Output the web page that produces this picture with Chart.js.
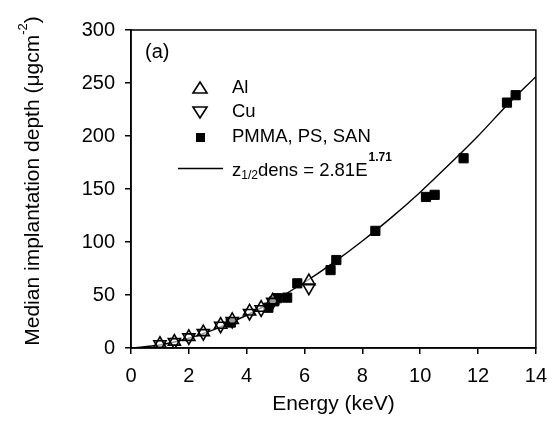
<!DOCTYPE html>
<html>
<head>
<meta charset="utf-8">
<script src="https://cdn.jsdelivr.net/npm/chart.js@4/dist/chart.umd.min.js"></script>
<style>
  html, body { margin: 0; padding: 0; background: #fff; }
  #wrap { width: 557px; height: 424px; position: relative; }
</style>
</head>
<body>
<div id="wrap"><canvas id="chart-area" width="557" height="424"></canvas></div>
<script>
// energies (keV) shared by Al and Cu
var metalE = [1.0, 1.5, 2.0, 2.5, 3.1, 3.5, 4.1, 4.5, 4.9, 6.15];
var alDepth = [4, 6, 10.5, 15, 22, 26.5, 34.5, 38, 45, 63];
var cuDepth = [3.5, 5.5, 10, 14, 21, 25.5, 33, 36.5, 43.5, 57];

// PMMA, PS, SAN
var polyE = [3.45, 4.75, 4.95, 5.05, 5.4, 5.75, 6.9, 7.1, 8.45, 10.2, 10.5, 11.5, 13.0, 13.3];
var polyDepth = [24, 38, 44, 47, 47.5, 61, 73.5, 83, 110.5, 142.5, 144.5, 179, 231.5, 238.5];

// fitted curve
var fitE = [0, 1, 2, 3, 4, 5, 6, 7, 8, 9, 10, 11, 12, 13, 14];
var fitDepth = [0, 2.8, 9.2, 18.8, 30.9, 45.4, 62, 80.6, 101, 123, 147, 173, 200, 229, 256];

var xTicks = [0, 2, 4, 6, 8, 10, 12, 14];
var yTicks = [0, 50, 100, 150, 200, 250, 300];

var FONT = '"Liberation Sans", Arial, sans-serif';

function pts(xs, ys) {
    return xs.map(function(x, i) { return {x: x, y: ys[i]}; });
}

var extras = {
    id: 'extras',
    afterDraw: function(chart) {
        var ctx = chart.ctx;
        var a = chart.chartArea;
        ctx.save();
        // frame
        ctx.strokeStyle = '#000';
        ctx.lineWidth = 1.5;
        ctx.strokeRect(a.left, a.top, a.right - a.left, a.bottom - a.top);

        ctx.fillStyle = '#000';
        ctx.textBaseline = 'middle';
        ctx.textAlign = 'left';
        ctx.font = '20px ' + FONT;
        ctx.fillText('(a)', 145, 52);

        // legend
        ctx.font = '18.5px ' + FONT;
        ctx.lineWidth = 1.6;
        // up triangle
        ctx.beginPath();
        ctx.moveTo(200, 82); ctx.lineTo(207, 93); ctx.lineTo(193, 93); ctx.closePath();
        ctx.stroke();
        ctx.fillText('Al', 232, 88);
        // down triangle
        ctx.beginPath();
        ctx.moveTo(193, 107); ctx.lineTo(207, 107); ctx.lineTo(200, 118); ctx.closePath();
        ctx.stroke();
        ctx.fillText('Cu', 232, 112);
        // square
        ctx.fillRect(196, 133, 9, 9);
        ctx.fillText('PMMA, PS, SAN', 232, 137);
        // line
        ctx.lineWidth = 1.3;
        ctx.beginPath();
        ctx.moveTo(178, 168.5); ctx.lineTo(223, 168.5); ctx.stroke();
        var x = 232;
        ctx.fillText('z', x, 171); x += ctx.measureText('z').width;
        ctx.font = '12px ' + FONT;
        ctx.fillText('1/2', x, 176); x += ctx.measureText('1/2').width;
        ctx.font = '18.5px ' + FONT;
        var t = 'dens = 2.81E';
        ctx.fillText(t, x, 171); x += ctx.measureText(t).width;
        ctx.font = 'bold 12px ' + FONT;
        ctx.fillText('1.71', x + 1, 158);

        // x title
        ctx.font = '21px ' + FONT;
        ctx.textAlign = 'center';
        ctx.fillText('Energy (keV)', (a.left + a.right) / 2, 404);

        // y title with superscript
        ctx.translate(33, 181);
        ctx.rotate(-Math.PI / 2);
        var main = 'Median implantation depth (\u03bcgcm';
        ctx.font = '21px ' + FONT;
        var w1 = ctx.measureText(main).width;
        ctx.font = '13px ' + FONT;
        var w2 = ctx.measureText('-2').width;
        ctx.font = '21px ' + FONT;
        var w3 = ctx.measureText(')').width;
        var start = -(w1 + w2 + w3) / 2;
        ctx.textAlign = 'left';
        ctx.fillText(main, start, 0);
        ctx.font = '13px ' + FONT;
        ctx.fillText('-2', start + w1, -10);
        ctx.font = '21px ' + FONT;
        ctx.fillText(')', start + w1 + w2, 0);
        ctx.restore();
    }
};

var config = {
    type: 'scatter',
    data: {
        datasets: [{
            type: 'line',
            label: 'fit',
            data: pts(fitE, fitDepth),
            borderColor: '#000',
            borderWidth: 1.4,
            pointRadius: 0,
            cubicInterpolationMode: 'monotone',
            fill: false,
            order: 3
        }, {
            label: 'PMMA, PS, SAN',
            data: pts(polyE, polyDepth),
            pointStyle: 'rect',
            pointRadius: 6.5,
            backgroundColor: '#000',
            borderColor: '#000',
            borderWidth: 1,
            order: 2
        }, {
            label: 'Al',
            data: pts(metalE, alDepth),
            pointStyle: 'triangle',
            pointRadius: 7,
            backgroundColor: 'rgba(255,255,255,0.6)',
            borderColor: '#000',
            borderWidth: 1.6,
            order: 1
        }, {
            label: 'Cu',
            data: pts(metalE, cuDepth),
            pointStyle: 'triangle',
            rotation: 180,
            pointRadius: 7,
            backgroundColor: 'rgba(255,255,255,0)',
            borderColor: '#000',
            borderWidth: 1.6,
            order: 0
        }]
    },
    options: {
        responsive: false,
        animation: false,
        layout: { padding: { top: 30, right: 18, left: 0, bottom: 0 } },
        plugins: { legend: { display: false }, tooltip: { enabled: false } },
        scales: {
            x: {
                type: 'linear',
                min: 0, max: 14,
                afterBuildTicks: function(s) { s.ticks = xTicks.map(function(v) { return {value: v}; }); },
                afterFit: function(s) { s.height = 76; },
                grid: { display: true, drawOnChartArea: false, drawTicks: true, tickLength: 6, color: '#000', lineWidth: 1.5 },
                border: { display: true, color: '#000', width: 1.5 },
                ticks: { color: '#000', font: { family: FONT, size: 20 }, padding: 10, maxRotation: 0 }
            },
            y: {
                type: 'linear',
                min: 0, max: 300,
                afterBuildTicks: function(s) { s.ticks = yTicks.map(function(v) { return {value: v}; }); },
                afterFit: function(s) { s.width = 131; },
                grid: { display: true, drawOnChartArea: false, drawTicks: true, tickLength: 6, color: '#000', lineWidth: 1.5 },
                border: { display: true, color: '#000', width: 1.5 },
                ticks: { color: '#000', font: { family: FONT, size: 20 }, padding: 10 }
            }
        }
    },
    plugins: [extras]
};

window.onload = function() {
    var ctx = document.getElementById('chart-area').getContext('2d');
    window.myChart = new Chart(ctx, config);
};
</script>
</body>
</html>
